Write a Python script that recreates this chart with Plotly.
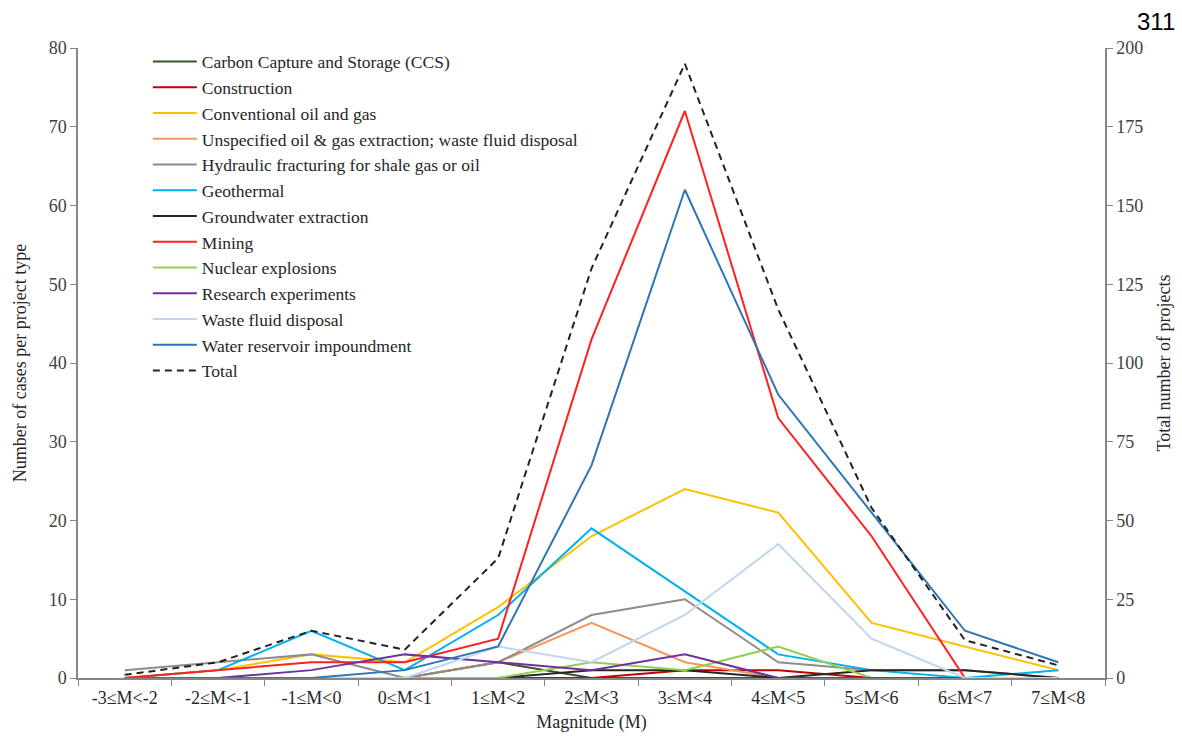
import plotly.graph_objects as go

# Magnitude bins
magnitude_bins = ["-3≤M<-2", "-2≤M<-1", "-1≤M<0", "0≤M<1", "1≤M<2", "2≤M<3",
                  "3≤M<4", "4≤M<5", "5≤M<6", "6≤M<7", "7≤M<8"]

# Number of cases per project type in each bin
ccs            = [0, 0, 0, 0, 2, 0, 0, 0, 0, 0, 0]
construction   = [0, 0, 0, 0, 0, 0, 1, 1, 0, 0, 0]
conventional   = [0, 1, 3, 2, 9, 18, 24, 21, 7, 4, 1]
unspecified    = [0, 0, 0, 0, 2, 7, 2, 0, 0, 0, 0]
hydraulic      = [1, 2, 3, 0, 2, 8, 10, 2, 1, 1, 0]
geothermal     = [0, 1, 6, 1, 8, 19, 11, 3, 1, 0, 1]
groundwater    = [0, 0, 0, 0, 0, 1, 1, 0, 1, 1, 0]
mining         = [0, 1, 2, 2, 5, 43, 72, 33, 18, 0, 0]
nuclear        = [0, 0, 0, 0, 0, 2, 1, 4, 0, 0, 0]
research       = [0, 0, 1, 3, 2, 1, 3, 0, 0, 0, 0]
waste_disposal = [0, 0, 0, 0, 4, 2, 8, 17, 5, 0, 0]
reservoir      = [0, 0, 0, 1, 4, 27, 62, 36, 21, 6, 2]

# Total number of projects (right axis)
total = [1, 5, 15, 9, 38, 130, 195, 117, 54, 12, 4]

series = [
    ("Carbon Capture and Storage (CCS)", ccs, "#375623"),
    ("Construction", construction, "#C00000"),
    ("Conventional oil and gas", conventional, "#FFC000"),
    ("Unspecified oil & gas extraction; waste fluid disposal", unspecified, "#F4975A"),
    ("Hydraulic fracturing for shale gas or oil", hydraulic, "#8C8C8C"),
    ("Geothermal", geothermal, "#00B0F0"),
    ("Groundwater extraction", groundwater, "#262626"),
    ("Mining", mining, "#FF2020"),
    ("Nuclear explosions", nuclear, "#92D050"),
    ("Research experiments", research, "#7030A0"),
    ("Waste fluid disposal", waste_disposal, "#BDD7EE"),
    ("Water reservoir impoundment", reservoir, "#2E75B6"),
]

FONT = "Liberation Serif, Times New Roman, serif"

fig = go.Figure()
for name, vals, color in series:
    fig.add_trace(go.Scatter(
        x=magnitude_bins, y=vals, name=name, mode="lines",
        line=dict(color=color, width=2),
    ))

fig.add_trace(go.Scatter(
    x=magnitude_bins, y=total, name="Total", mode="lines", yaxis="y2",
    line=dict(color="#222222", width=2, dash="7px,5px"),
))

axis_line = "#868686"
tick_font = dict(family=FONT, size=18, color="#404040")
title_font = dict(family=FONT, size=18, color="#262626")

fig.update_layout(
    width=1182, height=740,
    margin=dict(l=78, r=77, t=48, b=62),
    paper_bgcolor="white", plot_bgcolor="white",
    font=dict(family=FONT, size=17, color="#404040"),
    showlegend=True,
    legend=dict(
        x=0.068, y=1.007, xanchor="left", yanchor="top",
        bgcolor="rgba(0,0,0,0)", borderwidth=0,
        font=dict(family=FONT, size=17.5, color="#262626"),
        tracegroupgap=0, itemwidth=44,
    ),
    xaxis=dict(
        type="category", range=[-0.5, 10.5],
        showline=True, linecolor=axis_line, linewidth=1.5,
        ticks="outside", tickson="boundaries", ticklen=6, tickcolor=axis_line,
        showgrid=False, zeroline=False, ticklabelstandoff=3,
        tickfont=dict(family=FONT, size=18, color="#262626"),
        title=dict(text="Magnitude (M)", standoff=8, font=title_font),
    ),
    yaxis=dict(
        range=[0, 80], dtick=10,
        showline=True, linecolor=axis_line, linewidth=1.5,
        ticks="outside", ticklen=6, tickcolor=axis_line,
        showgrid=False, zeroline=False,
        tickfont=tick_font,
        title=dict(text="Number of cases per project type", standoff=17, font=title_font),
    ),
    yaxis2=dict(
        range=[0, 200], dtick=25, overlaying="y", side="right",
        showline=True, linecolor=axis_line, linewidth=1.5,
        ticks="outside", ticklen=6, tickcolor=axis_line,
        showgrid=False, zeroline=False,
        tickfont=tick_font,
        title=dict(text="Total number of projects", standoff=15, font=title_font),
    ),
    annotations=[
        dict(text="311", x=1.0, y=1.0, xref="paper", yref="paper",
             xanchor="right", yanchor="top", xshift=72, yshift=42,
             showarrow=False,
             font=dict(family="Liberation Sans, Arial, sans-serif", size=24, color="#000000")),
    ],
)

fig.write_html("out.html")
